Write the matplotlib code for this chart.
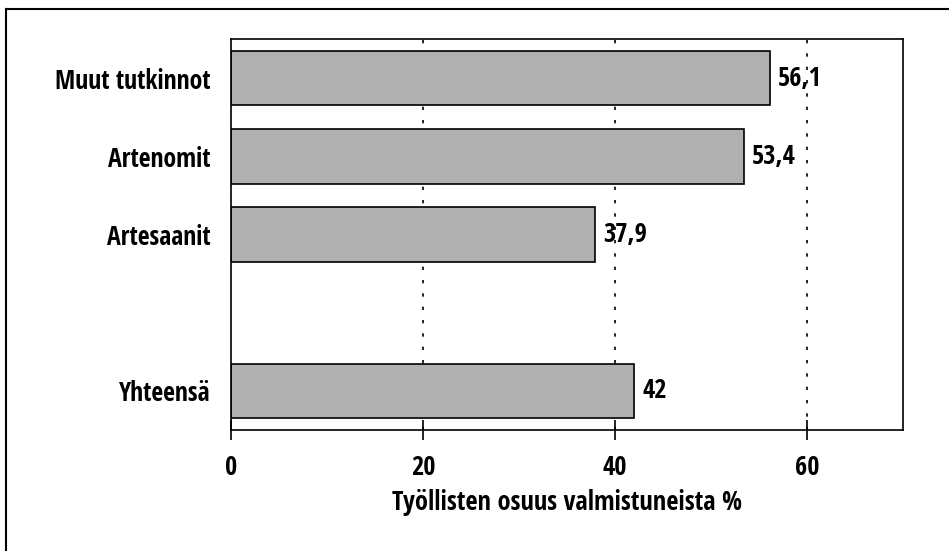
import matplotlib.pyplot as plt
from matplotlib.lines import Line2D

# data
categories = ["Muut tutkinnot", "Artenomit", "Artesaanit", "Yhteensä"]
values = [56.1, 53.4, 37.9, 42]
value_labels = ["56,1", "53,4", "37,9", "42"]
positions = [0, 1, 2, 4]
xticks = [0, 20, 40, 60]

# condensed bold face, close to the scanned original
plt.rcParams["font.family"] = ["Open Sans Condensed", "DejaVu Sans"]
plt.rcParams["font.weight"] = "bold"
plt.rcParams["axes.labelweight"] = "bold"

W, H = 949, 551
fig = plt.figure(figsize=(W / 100, H / 100), dpi=100)
ax = fig.add_axes([231 / W, 1 - 430 / H, (903 - 231) / W, (430 - 39) / H])

ax.barh(positions, values, height=0.7, color="#b0b0b0",
        edgecolor="black", linewidth=1.2, zorder=2)

for p, v, lab in zip(positions, values, value_labels):
    ax.text(v + 0.9, p, lab, va="center", ha="left", fontsize=19, zorder=3)

# dotted gridlines
for x in xticks[1:]:
    ax.axvline(x, color="black", linestyle=(0, (2, 6)), linewidth=1.2, zorder=1)

ax.set_xlim(0, 70)
ax.set_ylim(4.5, -0.5)
ax.set_yticks(positions)
ax.set_yticklabels(categories, fontsize=18.5)
ax.set_xticks(xticks)
ax.set_xticklabels([str(t) for t in xticks], fontsize=19)
ax.tick_params(axis="y", length=0, pad=15)
ax.tick_params(axis="x", direction="inout", length=14, width=1.2, pad=10)

for s in ax.spines.values():
    s.set_linewidth(1.2)

ax.set_xlabel("Työllisten osuus valmistuneista %", fontsize=19, labelpad=6)

# outer frame from the scan
fig.add_artist(Line2D([6 / W, 6 / W], [0, 1 - 9 / H], color="black", linewidth=1.5))
fig.add_artist(Line2D([6 / W, 1], [1 - 9 / H, 1 - 9 / H], color="black", linewidth=1.5))

fig.savefig("out.png", dpi=100)
